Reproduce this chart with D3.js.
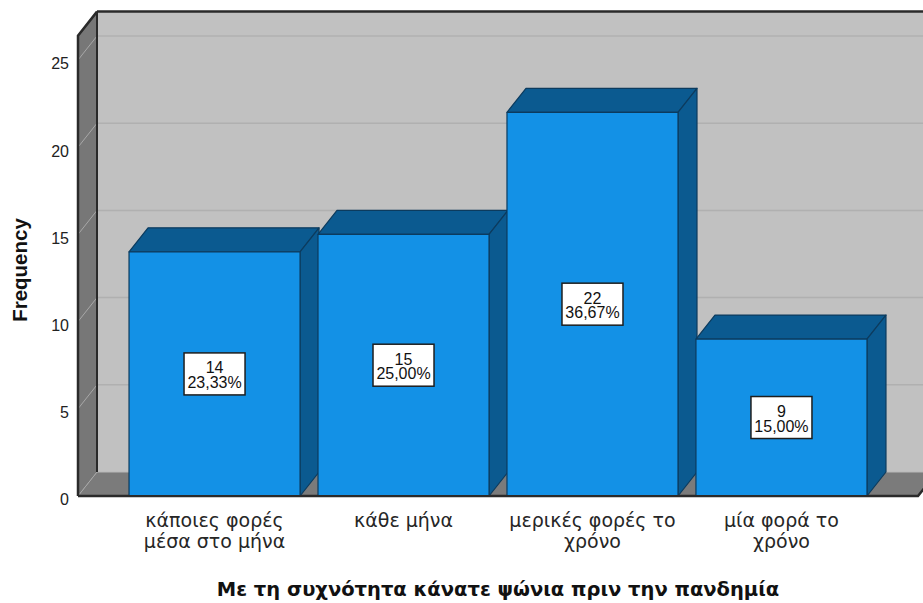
<!DOCTYPE html>
<html>
<head>
<meta charset="utf-8">
<script src="https://cdn.jsdelivr.net/npm/d3@7"></script>
<style>
  html, body { margin: 0; padding: 0; background: #fff; }
  svg { display: block; font-family: "Liberation Sans", Arial, sans-serif; }
</style>
</head>
<body>
<svg id="chart" width="923" height="603"></svg>
<script>
// Frequency of shopping before the pandemic
const categories = [
  "κάποιες φορές μέσα στο μήνα",
  "κάθε μήνα",
  "μερικές φορές το χρόνο",
  "μία φορά το χρόνο"
];
const categoryLines = [
  ["κάποιες φορές", "μέσα στο μήνα"],
  ["κάθε μήνα"],
  ["μερικές φορές το", "χρόνο"],
  ["μία φορά το", "χρόνο"]
];
const counts = [14, 15, 22, 9];
const percents = ["23,33%", "25,00%", "36,67%", "15,00%"];
const yTicks = [0, 5, 10, 15, 20, 25];
const yMax = 26.4;

const xTitle = "Με τη συχνότητα κάνατε ψώνια πριν την πανδημία";
const yTitle = "Frequency";

const svg = d3.select("#chart");

// front plane of the 3D box
const plotLeft = 78, plotRight = 918, plotBottom = 496, plotTop = 35.6;
// depth offset of the 3D projection
const dx = 19, dy = 24;

const x = d3.scaleBand()
  .domain(categories)
  .range([plotLeft, plotRight])
  .paddingInner(0.095)
  .paddingOuter(0.27);

const y = d3.scaleLinear()
  .domain([0, yMax])
  .range([plotBottom, plotTop]);

const poly = pts => pts.map(p => p.join(",")).join(" ");

// back wall
svg.append("polygon")
  .attr("points", poly([[plotLeft + dx, plotTop - dy], [plotRight + dx, plotTop - dy], [plotRight + dx, plotBottom - dy], [plotLeft + dx, plotBottom - dy]]))
  .attr("fill", "#c1c1c1");

// left wall
svg.append("polygon")
  .attr("points", poly([[plotLeft, plotTop], [plotLeft + dx, plotTop - dy], [plotLeft + dx, plotBottom - dy], [plotLeft, plotBottom]]))
  .attr("fill", "#777777");

// floor
svg.append("polygon")
  .attr("points", poly([[plotLeft, plotBottom], [plotLeft + dx, plotBottom - dy], [plotRight + dx, plotBottom - dy], [plotRight, plotBottom]]))
  .attr("fill", "#7b7b7b");

// gridlines on the back wall and the left wall
const grid = svg.append("g");
yTicks.forEach(v => {
  if (v > 0) {
    grid.append("line")
      .attr("x1", plotLeft + dx).attr("x2", plotRight + dx)
      .attr("y1", y(v) - dy).attr("y2", y(v) - dy)
      .attr("stroke", "#b0b0b0").attr("stroke-width", 1.5);
  }
  grid.append("line")
    .attr("x1", plotLeft).attr("x2", plotLeft + dx)
    .attr("y1", y(v)).attr("y2", y(v) - dy)
    .attr("stroke", "#a8a8a8").attr("stroke-width", 1);
});
// line where back wall meets floor
svg.append("line")
  .attr("x1", plotLeft + dx).attr("x2", plotRight + dx)
  .attr("y1", plotBottom - dy).attr("y2", plotBottom - dy)
  .attr("stroke", "#b8b8b8").attr("stroke-width", 1);

// box edges
const edge = svg.append("g").attr("fill", "none").attr("stroke", "#2a2a2a");
edge.append("line").attr("x1", plotLeft + dx).attr("x2", plotRight + dx + 5)
  .attr("y1", plotTop - dy).attr("y2", plotTop - dy).attr("stroke-width", 2.5);
edge.append("line").attr("x1", plotLeft + dx).attr("x2", plotLeft + dx)
  .attr("y1", plotTop - dy).attr("y2", plotBottom - dy).attr("stroke-width", 2);
edge.append("polyline")
  .attr("points", poly([[plotLeft, plotBottom], [plotLeft, plotTop], [plotLeft + dx, plotTop - dy]]))
  .attr("stroke-width", 2.5);
edge.append("polyline")
  .attr("points", poly([[plotLeft, plotBottom], [plotRight, plotBottom], [plotRight + dx, plotBottom - dy]]))
  .attr("stroke-width", 2.5);

// bars
const bars = svg.append("g");
categories.forEach((c, i) => {
  const x0 = x(c), x1 = x(c) + x.bandwidth();
  const yt = y(counts[i]), yb = y(0);
  const g = bars.append("g")
    .attr("stroke", "#0c3b5e").attr("stroke-width", 1.2).attr("stroke-linejoin", "round");
  // top face
  g.append("polygon")
    .attr("points", poly([[x0, yt], [x0 + dx, yt - dy], [x1 + dx, yt - dy], [x1, yt]]))
    .attr("fill", "#0b5a90");
  // side face
  g.append("polygon")
    .attr("points", poly([[x1, yt], [x1 + dx, yt - dy], [x1 + dx, yb - dy], [x1, yb]]))
    .attr("fill", "#0b5a90");
  // front face
  g.append("rect")
    .attr("x", x0).attr("y", yt)
    .attr("width", x.bandwidth()).attr("height", yb - yt)
    .attr("fill", "#1391e6");
});
// floor front edge drawn over the bar bottoms
svg.append("line")
  .attr("x1", plotLeft).attr("x2", plotRight)
  .attr("y1", plotBottom).attr("y2", plotBottom)
  .attr("stroke", "#2a2a2a").attr("stroke-width", 2);

// value labels
const labels = svg.append("g");
categories.forEach((c, i) => {
  const cx = x(c) + x.bandwidth() / 2;
  const cy = (y(counts[i]) + y(0)) / 2;
  labels.append("rect")
    .attr("x", cx - 30.5).attr("y", cy - 21)
    .attr("width", 61).attr("height", 42)
    .attr("fill", "#fff").attr("stroke", "#1e1e1e").attr("stroke-width", 1.5);
  const t = labels.append("text")
    .attr("text-anchor", "middle")
    .attr("font-size", 16).attr("fill", "#111");
  t.append("tspan").attr("x", cx).attr("y", cy - 0.5).text(counts[i]);
  t.append("tspan").attr("x", cx).attr("y", cy + 14).text(percents[i]);
});

// y axis
const yAxis = svg.append("g")
  .attr("transform", `translate(${plotLeft},0)`)
  .call(d3.axisLeft(y).tickValues(yTicks).tickSize(0).tickPadding(9).tickFormat(d3.format("d")));
yAxis.select(".domain").remove();
yAxis.selectAll("text")
  .attr("font-size", 16)
  .attr("dy", "0.55em")
  .attr("font-family", "Liberation Sans, Arial, sans-serif")
  .attr("fill", "#222");

// x category labels
const xl = svg.append("g")
  .attr("font-family", "DejaVu Sans, Verdana, sans-serif")
  .attr("font-size", 19).attr("fill", "#262626").attr("text-anchor", "middle");
categories.forEach((c, i) => {
  const cx = x(c) + x.bandwidth() / 2;
  const t = xl.append("text");
  categoryLines[i].forEach((line, j) => {
    t.append("tspan").attr("x", cx).attr("y", 527 + j * 20.5).text(line);
  });
});

// axis titles
svg.append("text")
  .attr("x", (plotLeft + plotRight) / 2).attr("y", 596)
  .attr("text-anchor", "middle")
  .attr("font-family", "DejaVu Sans, Verdana, sans-serif")
  .attr("font-size", 19.5).attr("font-weight", "bold").attr("fill", "#111")
  .text(xTitle);

svg.append("text")
  .attr("transform", `translate(27,270) rotate(-90)`)
  .attr("text-anchor", "middle")
  .attr("font-size", 20.5).attr("font-weight", "bold").attr("fill", "#111")
  .text(yTitle);
</script>
</body>
</html>
